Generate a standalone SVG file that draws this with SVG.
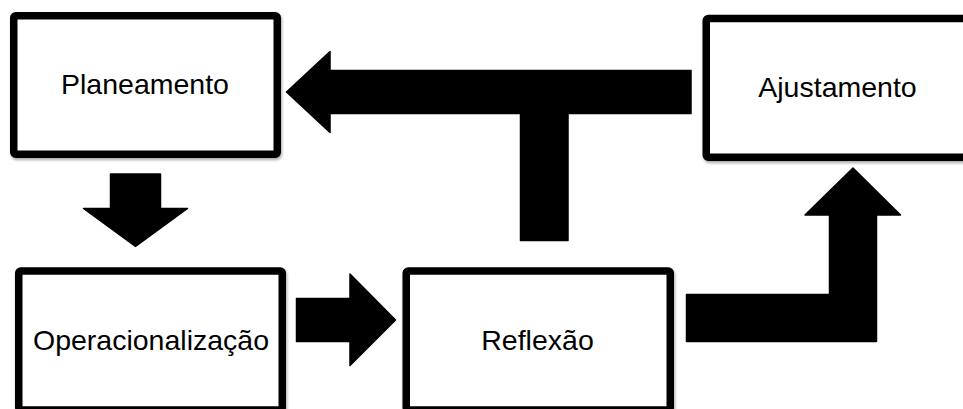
<svg xmlns="http://www.w3.org/2000/svg" width="963" height="409" viewBox="0 0 963 409">
  <style>
    .box { fill: #ffffff; stroke: #000000; stroke-width: 7.5; stroke-linejoin: round; filter: url(#soft); }
    .label { font-family: "Liberation Sans", Arial, sans-serif; font-size: 28.5px; fill: #000000; text-anchor: middle; }
    .flow { fill: #000000; stroke: #000000; stroke-width: 1.5; stroke-linejoin: round; }
  </style>
  <defs>
    <filter id="soft" x="-10%" y="-10%" width="120%" height="130%">
      <feGaussianBlur in="SourceAlpha" stdDeviation="1.6"/>
      <feOffset dx="1" dy="2" result="blur"/>
      <feComponentTransfer><feFuncA type="linear" slope="0.35"/></feComponentTransfer>
      <feMerge><feMergeNode/><feMergeNode in="SourceGraphic"/></feMerge>
    </filter>
  </defs>
  <rect width="963" height="409" fill="#ffffff"/>

  <!-- block arrows between the stages -->
  <g id="connectors">
    <!-- Planeamento -> Operacionalização -->
    <path class="flow" d="M110.5,174 H160.5 V208.5 H187.5 L135.5,246.5 L83.5,208.5 H110.5 Z"/>
    <!-- Operacionalização -> Reflexão -->
    <path class="flow" d="M296.5,298.5 H350 V274 L395.5,320 L350,365.5 V341.5 H296.5 Z"/>
    <!-- Reflexão / Ajustamento -> Planeamento (T-shaped) -->
    <path class="flow" d="M691,70.5 V113.5 H568 V240.5 H520.5 V113.5 H330 V132.5 L286.5,92 L330,51.5 V70.5 Z"/>
    <!-- Reflexão -> Ajustamento (elbow) -->
    <path class="flow" d="M686.5,294.5 H829.5 V215 H805 L853,168 L900.5,215 H876.5 V341.5 H686.5 Z"/>
  </g>

  <g id="planeamento">
    <rect class="box" x="13.75" y="15.75" width="263.5" height="138.5" rx="2"/>
    <text class="label" x="145" y="94">Planeamento</text>
  </g>

  <g id="ajustamento">
    <rect class="box" x="706.25" y="18.5" width="290" height="138.75" rx="2"/>
    <text class="label" x="837.5" y="97">Ajustamento</text>
  </g>

  <g id="operacionalizacao">
    <rect class="box" x="18.75" y="271" width="263.5" height="139" rx="2"/>
    <text class="label" x="151" y="350">Operacionalização</text>
  </g>

  <g id="reflexao">
    <rect class="box" x="406.25" y="271" width="264" height="139" rx="2"/>
    <text class="label" x="537.5" y="350">Reflexão</text>
  </g>
</svg>
